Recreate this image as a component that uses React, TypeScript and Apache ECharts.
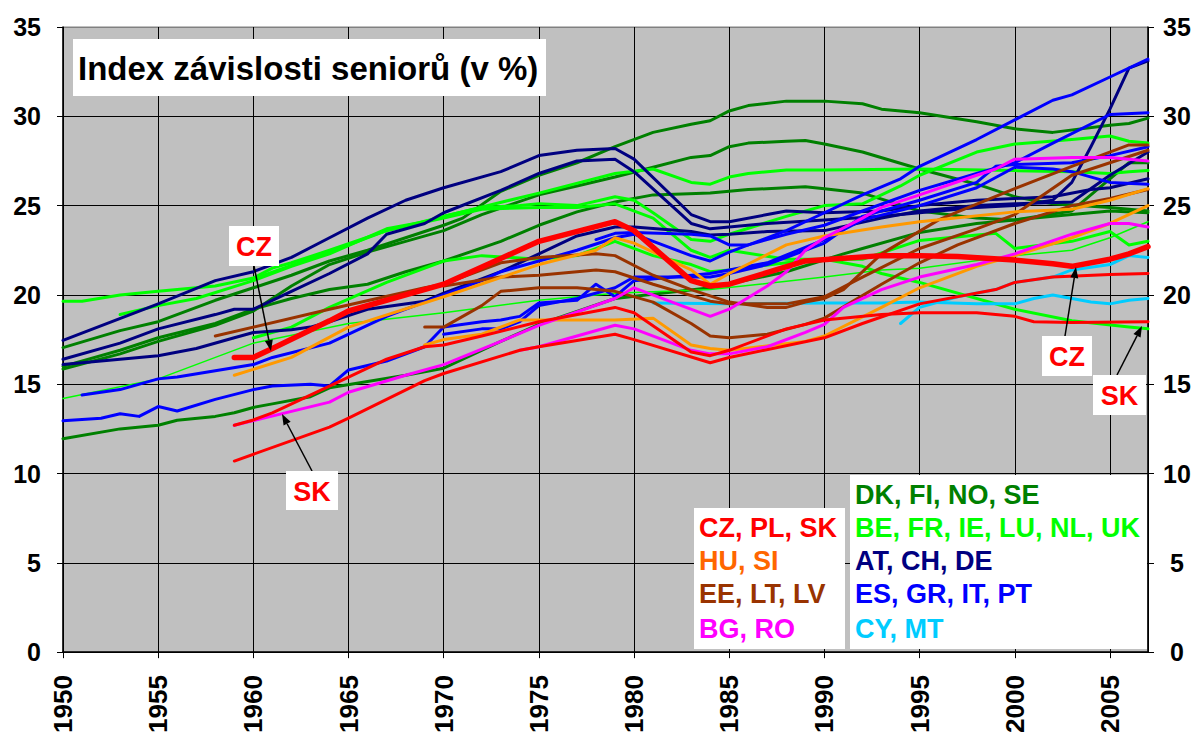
import React, { useEffect, useRef } from "react";
import * as echarts from "echarts";

type P = [number, number][];

// ---- axis settings ----
const X_MIN = 1950;
const X_MAX = 2007;
const Y_MIN = 0;
const Y_MAX = 35;

// ---- red: CZ, PL, SK ----
const CZ: P = [[1959,16.5],[1960,16.5],[1961,17.0],[1964,18.55],[1965,19.1],[1970,20.6],[1975,23.0],[1979,24.1],[1980,23.6],[1983,20.8],[1984,20.5],[1985,20.6],[1989,21.9],[1993,22.2],[1995,22.2],[1997,22.15],[2000,21.95],[2002,21.75],[2003,21.6],[2005,22.0],[2006,22.3],[2007,22.7]];
const SK: P = [[1959,12.7],[1960,13.0],[1961,13.4],[1964,14.9],[1965,15.4],[1967,16.4],[1969,17.1],[1970,17.2],[1972,17.7],[1975,18.5],[1979,19.3],[1980,19.0],[1983,16.8],[1984,16.6],[1985,16.9],[1988,18.1],[1990,18.6],[1993,18.9],[1995,19.0],[1998,19.0],[2000,18.8],[2001,18.5],[2003,18.45],[2007,18.5]];
const PL: P = [[1959,10.7],[1964,12.6],[1965,13.1],[1969,15.2],[1970,15.6],[1974,16.9],[1975,17.1],[1979,17.8],[1980,17.5],[1984,16.2],[1985,16.5],[1990,17.6],[1992,18.4],[1995,19.5],[1999,20.3],[2000,20.7],[2002,21.0],[2005,21.15],[2007,21.2]];

// ---- orange: HU, SI ----
const OR1: P = [[1959,15.5],[1962,16.5],[1965,18.2],[1970,19.9],[1975,21.7],[1978,22.5],[1979,23.2],[1980,22.9],[1983,21.4],[1984,20.6],[1985,21.2],[1988,22.8],[1990,23.3],[1993,23.8],[1995,24.1],[2000,24.65],[2003,24.8],[2005,25.3],[2007,25.95]];
const OR2: P = [[1969,17.2],[1970,17.5],[1972,17.8],[1974,18.6],[1979,18.6],[1981,18.7],[1983,17.2],[1984,17.0],[1985,16.9],[1989,17.4],[1990,17.7],[1993,19.3],[1995,20.4],[1998,21.6],[2000,22.2],[2003,23.2],[2005,24.0],[2007,25.0]];

// ---- brown: EE, LT, LV ----
const BR1: P = [[1958,17.7],[1964,19.2],[1969,20.4],[1970,20.6],[1973,21.8],[1975,22.1],[1978,22.3],[1979,22.2],[1981,21.1],[1983,20.3],[1985,19.6],[1987,19.3],[1988,19.3],[1989,19.6],[1990,19.8],[1991,20.3],[1993,22.3],[1996,24.2],[1997,24.65],[2000,25.95],[2003,27.2],[2006,28.4],[2007,28.4]];
const BR2: P = [[1970,20.5],[1973,21.0],[1975,21.1],[1978,21.4],[1979,21.3],[1981,20.6],[1984,19.65],[1985,19.5],[1988,19.5],[1990,19.9],[1992,21.0],[1995,22.6],[1998,23.7],[2000,24.5],[2003,26.7],[2007,28.1]];
const BR3: P = [[1969,18.2],[1970,18.2],[1972,19.4],[1973,20.2],[1975,20.4],[1977,20.4],[1979,20.2],[1981,19.6],[1983,18.4],[1984,17.7],[1985,17.6],[1987,17.8],[1989,18.35],[1990,18.7],[1993,20.6],[1995,21.8],[1997,22.8],[2000,24.0],[2003,25.0],[2005,25.4],[2007,25.9]];

// ---- magenta: BG, RO ----
const MG1: P = [[1959,12.7],[1964,14.0],[1965,14.55],[1968,15.5],[1970,16.1],[1973,17.4],[1975,18.3],[1979,19.8],[1980,20.4],[1982,19.6],[1984,18.8],[1985,19.2],[1987,20.5],[1988,21.3],[1989,22.5],[1990,23.2],[1992,24.3],[1993,24.9],[1995,25.6],[1998,26.7],[1999,27.05],[2000,27.6],[2003,27.7],[2005,27.7],[2007,27.5]];
const MG2: P = [[1974,16.9],[1975,17.1],[1979,18.3],[1980,18.1],[1983,16.9],[1984,16.7],[1985,16.7],[1987,17.1],[1989,17.9],[1990,18.35],[1991,19.3],[1993,20.3],[1995,21.0],[1998,21.7],[2000,22.3],[2003,23.4],[2005,24.0],[2006,24.0],[2007,23.8]];

// ---- green: DK, FI, NO, SE ----
const GR1: P = [[1950,17.05],[1953,18.0],[1955,18.5],[1958,19.7],[1960,20.4],[1962,21.1],[1964,21.9],[1966,22.5],[1968,23.2],[1970,23.9],[1971,24.3],[1973,25.8],[1975,26.7],[1977,27.4],[1979,28.3],[1981,29.1],[1983,29.56],[1984,29.75],[1985,30.3],[1986,30.6],[1988,30.85],[1990,30.85],[1992,30.7],[1993,30.4],[1995,30.2],[1998,29.7],[2000,29.3],[2002,29.1],[2005,29.5],[2006,29.6],[2007,29.9]];
const GR2: P = [[1950,15.85],[1953,16.7],[1955,17.4],[1958,18.3],[1960,19.1],[1962,20.5],[1964,21.7],[1966,22.4],[1968,23.0],[1970,23.6],[1972,24.5],[1975,25.6],[1977,26.1],[1979,26.6],[1981,27.15],[1983,27.7],[1984,27.8],[1985,28.3],[1986,28.5],[1988,28.6],[1989,28.65],[1990,28.45],[1992,28.0],[1995,27.05],[1998,26.2],[2000,25.5],[2002,25.1],[2005,24.9],[2007,24.7]];
const GR3: P = [[1950,16.0],[1953,16.9],[1955,17.6],[1958,18.4],[1960,19.2],[1962,19.8],[1964,20.3],[1966,20.6],[1968,21.3],[1970,21.9],[1973,23.0],[1975,23.9],[1977,24.65],[1979,25.2],[1981,25.6],[1984,25.7],[1986,25.9],[1989,26.05],[1990,25.95],[1992,25.7],[1995,24.7],[1998,24.3],[2000,24.2],[2003,24.7],[2005,26.5],[2006,27.4],[2007,27.4]];
const GR4: P = [[1950,11.95],[1953,12.5],[1955,12.7],[1956,12.98],[1958,13.2],[1959,13.4],[1960,13.7],[1961,13.9],[1963,14.3],[1964,14.8],[1968,15.5],[1970,15.9],[1973,17.4],[1975,18.35],[1979,19.8],[1984,20.4],[1988,21.3],[1991,22.3],[1992,22.6],[1995,23.5],[1998,24.0],[2000,24.2],[2003,24.5],[2005,24.7],[2007,24.6]];

// ---- lime: BE, FR, IE, LU, NL, UK ----
const LM1: P = [[1950,19.65],[1951,19.65],[1953,20.0],[1955,20.2],[1958,20.5],[1960,20.95],[1961,21.5],[1962,21.8],[1964,22.5],[1967,23.6],[1970,24.4],[1975,25.7],[1979,26.8],[1981,27.05],[1983,26.3],[1984,26.2],[1985,26.6],[1986,26.8],[1988,27.0],[1990,27.0],[1995,27.05],[2000,26.96],[2003,26.9],[2005,26.8],[2006,26.9],[2007,26.96]];
const LM2: P = [[1953,18.9],[1955,19.4],[1957,19.8],[1960,20.8],[1962,21.6],[1964,22.3],[1967,23.7],[1969,24.1],[1970,24.4],[1972,24.9],[1974,25.0],[1975,25.1],[1977,25.0],[1979,25.5],[1980,25.3],[1981,24.6],[1983,23.1],[1984,23.0],[1985,23.4],[1988,24.4],[1990,25.0],[1992,25.1],[1994,26.1],[1995,26.7],[1998,28.0],[2000,28.45],[2003,28.7],[2005,28.9],[2006,28.6],[2007,28.5]];
const LM3: P = [[1960,20.9],[1964,22.4],[1967,23.6],[1970,24.3],[1972,24.8],[1975,24.9],[1977,24.9],[1979,25.1],[1981,24.3],[1983,22.5],[1984,22.1],[1985,22.5],[1988,22.0],[1990,22.0],[1992,22.0],[1995,23.05],[1999,23.45],[2000,22.6],[2003,23.0],[2005,23.55],[2006,22.8],[2007,23.0]];
const LM4: P = [[1960,17.6],[1962,18.2],[1964,19.3],[1967,20.7],[1970,21.9],[1972,22.2],[1975,22.0],[1977,22.2],[1979,23.0],[1981,22.2],[1983,21.7],[1984,21.3],[1985,21.4],[1988,21.8],[1990,22.0],[1992,21.6],[1993,21.2],[1995,20.7],[2000,19.2],[2003,18.55],[2006,18.2],[2007,18.1]];
const LM5: P = [[1950,14.2],[1955,15.3],[1960,17.3],[1965,18.4],[1970,19.0],[1975,19.7],[1979,20.1],[1984,20.3],[1990,21.0],[1993,21.4],[1995,21.5],[2000,22.2],[2003,22.5],[2005,23.2],[2007,24.1]];

// ---- navy: AT, CH, DE ----
const NV1: P = [[1950,17.45],[1955,19.5],[1958,20.8],[1960,21.3],[1962,22.1],[1964,23.2],[1966,24.3],[1968,25.3],[1970,26.0],[1973,26.9],[1975,27.8],[1977,28.1],[1979,28.2],[1980,27.6],[1983,24.5],[1984,24.1],[1985,24.1],[1987,24.5],[1988,24.7],[1990,24.6],[1993,24.7],[1995,25.0],[1998,25.3],[2000,25.4],[2002,25.5],[2004,25.9],[2005,26.0],[2007,26.5]];
const NV2: P = [[1950,16.4],[1953,17.3],[1955,18.1],[1958,18.9],[1959,19.2],[1960,19.2],[1961,19.7],[1962,20.2],[1964,21.2],[1966,22.3],[1967,23.4],[1969,24.0],[1970,24.6],[1973,25.85],[1975,26.8],[1977,27.5],[1979,27.6],[1980,26.9],[1983,24.0],[1984,23.7],[1985,23.8],[1987,24.0],[1990,24.2],[1993,24.4],[1995,24.6],[1998,24.9],[2000,25.0],[2002,25.3],[2003,26.3],[2004,28.3],[2005,30.4],[2006,32.7],[2007,33.1]];
const NV3: P = [[1950,16.1],[1955,16.6],[1957,17.0],[1959,17.6],[1960,17.9],[1962,18.05],[1963,18.2],[1964,18.5],[1966,19.2],[1969,19.65],[1970,20.1],[1973,21.3],[1975,22.3],[1977,23.3],[1979,23.8],[1980,23.8],[1983,23.55],[1984,23.35],[1985,23.4],[1987,23.55],[1990,23.6],[1993,24.3],[1995,24.7],[1998,25.0],[2000,25.1],[2003,25.2],[2005,26.7],[2007,28.0]];

// ---- blue: ES, GR, IT, PT ----
const BL1: P = [[1951,14.4],[1953,14.7],[1955,15.3],[1956,15.4],[1960,16.1],[1961,16.5],[1964,17.3],[1967,18.8],[1970,20.0],[1972,20.8],[1973,21.3],[1975,21.9],[1977,22.5],[1979,23.2],[1980,23.4],[1983,22.2],[1984,21.9],[1985,22.4],[1988,23.6],[1990,24.6],[1992,25.6],[1994,26.5],[1995,27.2],[1998,28.7],[2000,29.8],[2002,30.9],[2003,31.2],[2005,32.2],[2007,33.2]];
const BL2: P = [[1950,12.95],[1952,13.1],[1953,13.35],[1954,13.2],[1955,13.75],[1956,13.5],[1958,14.15],[1960,14.7],[1961,14.9],[1963,15.0],[1964,14.9],[1965,15.8],[1967,16.3],[1969,17.1],[1970,18.2],[1972,18.5],[1973,18.6],[1974,18.8],[1975,19.55],[1977,19.7],[1978,20.6],[1979,19.9],[1980,20.8],[1984,21.2],[1985,21.4],[1987,21.8],[1990,23.1],[1992,24.2],[1995,25.0],[1998,26.0],[2000,27.15],[2002,27.05],[2003,26.9],[2005,26.3],[2007,26.2]];
const BL3: P = [[1978,23.1],[1979,23.45],[1980,23.5],[1983,23.4],[1984,23.3],[1985,22.8],[1986,22.8],[1988,23.4],[1990,23.9],[1992,24.7],[1995,25.85],[1998,26.8],[2000,27.4],[2002,28.5],[2005,30.1],[2007,30.2]];
const BL4: P = [[1970,17.8],[1972,18.1],[1973,18.1],[1974,18.5],[1975,19.4],[1977,19.8],[1979,20.4],[1980,21.0],[1984,21.0],[1985,21.2],[1987,21.7],[1990,22.9],[1992,24.4],[1995,25.3],[1998,26.3],[1999,27.2],[2000,27.3],[2003,27.4],[2005,27.8],[2007,28.3]];

// ---- cyan: CY, MT ----
const CY1: P = [[1981,19.55],[1985,19.5],[1990,19.55],[1993,19.55],[1995,19.6],[1998,19.5],[2000,19.5],[2001,19.8],[2002,20.0],[2004,19.6],[2005,19.5],[2006,19.7],[2007,19.8]];
const CY2: P = [[1994,18.4],[1995,19.3],[1997,19.9],[1999,20.3],[2000,20.7],[2002,21.0],[2003,21.4],[2005,21.7],[2006,22.2],[2007,22.1]];

// ---- colours ----
const C_RED = "#FF0000";
const C_ORANGE = "#FF9900";
const C_ORANGE_TXT = "#FF6600";
const C_BROWN = "#993300";
const C_MAGENTA = "#FF00FF";
const C_GREEN = "#008000";
const C_LIME = "#00FF00";
const C_NAVY = "#000080";
const C_BLUE = "#0000FF";
const C_CYAN = "#00CCFF";

const SERIES: { name: string; data: P; color: string; width: number }[] = [
  { name: "DK/FI/NO/SE 1", data: GR1, color: C_GREEN, width: 3 },
  { name: "DK/FI/NO/SE 2", data: GR2, color: C_GREEN, width: 3 },
  { name: "DK/FI/NO/SE 3", data: GR3, color: C_GREEN, width: 3 },
  { name: "DK/FI/NO/SE 4", data: GR4, color: C_GREEN, width: 3 },
  { name: "BE/FR/IE/LU/NL/UK 1", data: LM1, color: C_LIME, width: 3 },
  { name: "BE/FR/IE/LU/NL/UK 2", data: LM2, color: C_LIME, width: 3 },
  { name: "BE/FR/IE/LU/NL/UK 3", data: LM3, color: C_LIME, width: 3 },
  { name: "BE/FR/IE/LU/NL/UK 4", data: LM4, color: C_LIME, width: 3 },
  { name: "BE/FR/IE/LU/NL/UK 5", data: LM5, color: C_LIME, width: 1.5 },
  { name: "AT/CH/DE 1", data: NV1, color: C_NAVY, width: 3 },
  { name: "AT/CH/DE 2", data: NV2, color: C_NAVY, width: 3 },
  { name: "AT/CH/DE 3", data: NV3, color: C_NAVY, width: 3 },
  { name: "ES/GR/IT/PT 1", data: BL1, color: C_BLUE, width: 3 },
  { name: "ES/GR/IT/PT 2", data: BL2, color: C_BLUE, width: 3 },
  { name: "ES/GR/IT/PT 3", data: BL3, color: C_BLUE, width: 3 },
  { name: "ES/GR/IT/PT 4", data: BL4, color: C_BLUE, width: 3 },
  { name: "CY/MT 1", data: CY1, color: C_CYAN, width: 3 },
  { name: "CY/MT 2", data: CY2, color: C_CYAN, width: 3 },
  { name: "EE/LT/LV 1", data: BR1, color: C_BROWN, width: 3 },
  { name: "EE/LT/LV 2", data: BR2, color: C_BROWN, width: 3 },
  { name: "EE/LT/LV 3", data: BR3, color: C_BROWN, width: 3 },
  { name: "HU/SI 1", data: OR1, color: C_ORANGE, width: 3 },
  { name: "HU/SI 2", data: OR2, color: C_ORANGE, width: 3 },
  { name: "BG/RO 1", data: MG1, color: C_MAGENTA, width: 3 },
  { name: "BG/RO 2", data: MG2, color: C_MAGENTA, width: 3 },
  { name: "PL", data: PL, color: C_RED, width: 3 },
  { name: "SK", data: SK, color: C_RED, width: 3 },
  { name: "CZ", data: CZ, color: C_RED, width: 5.5 },
];

const TITLE = "Index závislosti seniorů (v %)";
const LEGEND_LEFT: [string, string][] = [
  ["CZ, PL, SK", C_RED],
  ["HU, SI", C_ORANGE_TXT],
  ["EE, LT, LV", C_BROWN],
  ["BG, RO", C_MAGENTA],
];
const LEGEND_RIGHT: [string, string][] = [
  ["DK, FI, NO, SE", C_GREEN],
  ["BE, FR, IE, LU, NL, UK", C_LIME],
  ["AT, CH, DE", C_NAVY],
  ["ES, GR, IT, PT", C_BLUE],
  ["CY, MT", C_CYAN],
];

const FONT = '"Liberation Sans", Arial, Helvetica, sans-serif';

function arrow(x1: number, y1: number, x2: number, y2: number): any[] {
  const ang = Math.atan2(y2 - y1, x2 - x1);
  const L = 11;
  const W = 4;
  const bx = x2 - L * Math.cos(ang);
  const by = y2 - L * Math.sin(ang);
  const px = -Math.sin(ang) * W;
  const py = Math.cos(ang) * W;
  return [
    { type: "line", z: 100, shape: { x1, y1, x2: bx, y2: by }, style: { stroke: "#000", lineWidth: 1.5 } },
    { type: "polygon", z: 100, shape: { points: [[x2, y2], [bx + px, by + py], [bx - px, by - py]] }, style: { fill: "#000" } },
  ];
}

function tag(x: number, y: number, w: number, h: number, text: string): any[] {
  return [
    { type: "rect", z: 100, shape: { x, y, width: w, height: h }, style: { fill: "#fff" } },
    {
      type: "text", z: 101, x: x + w / 2, y: y + h / 2 + 1,
      style: { text, fill: C_RED, font: `bold 27px ${FONT}`, align: "center", verticalAlign: "middle" },
    },
  ];
}

export default function App() {
  const ref = useRef<HTMLDivElement>(null);
  useEffect(() => {
    document.body.style.margin = "0";
    if (!ref.current) return;
    const chart = echarts.init(ref.current, undefined, { renderer: "svg" });

    const graphics: any[] = [];
    // title
    graphics.push({ type: "rect", z: 100, shape: { x: 73, y: 39, width: 473, height: 57 }, style: { fill: "#fff" } });
    graphics.push({
      type: "text", z: 101, x: 78, y: 68,
      style: { text: TITLE, fill: "#000", font: `bold 33px ${FONT}`, align: "left", verticalAlign: "middle" },
    });
    // legend boxes
    graphics.push({ type: "rect", z: 100, shape: { x: 694, y: 508, width: 151, height: 141 }, style: { fill: "#fff" } });
    graphics.push({ type: "rect", z: 100, shape: { x: 850, y: 475, width: 297, height: 174 }, style: { fill: "#fff" } });
    const rowsR = [495, 527.5, 561, 593.5, 628.5];
    const rowsL = [527.5, 561, 593.5, 628.5];
    LEGEND_LEFT.forEach(([t, c], i) => {
      graphics.push({ type: "text", z: 101, x: 699, y: rowsL[i], style: { text: t, fill: c, font: `bold 27px ${FONT}`, align: "left", verticalAlign: "middle" } });
    });
    LEGEND_RIGHT.forEach(([t, c], i) => {
      graphics.push({ type: "text", z: 101, x: 855, y: rowsR[i], style: { text: t, fill: c, font: `bold 27px ${FONT}`, align: "left", verticalAlign: "middle" } });
    });
    // annotations
    graphics.push(...arrow(254, 266, 271, 351));
    graphics.push(...tag(229, 226, 50, 40, "CZ"));
    graphics.push(...arrow(312, 471, 282, 414));
    graphics.push(...tag(286, 471, 52, 39, "SK"));
    graphics.push(...arrow(1065, 336, 1076, 267));
    graphics.push(...tag(1042, 336, 50, 40, "CZ"));
    graphics.push(...arrow(1117, 375, 1142, 326));
    graphics.push(...tag(1093, 375, 53, 40, "SK"));

    const axisLabelBase = { color: "#000", fontSize: 25, fontWeight: "bold" as const, fontFamily: FONT };

    chart.setOption({
      animation: false,
      grid: { left: 63, right: 54, top: 27, bottom: 79, show: true, backgroundColor: "#C0C0C0", borderColor: "#808080", borderWidth: 1 },
      xAxis: {
        type: "value", min: X_MIN, max: X_MAX, interval: 5,
        axisLine: { show: true, onZero: false, lineStyle: { color: "#000", width: 1.5 } },
        axisTick: { show: true, length: 6, lineStyle: { color: "#000", width: 1 } },
        axisLabel: { ...axisLabelBase, fontSize: 26, rotate: 90, margin: 23, showMaxLabel: false, formatter: (v: number) => String(v) },
        splitLine: { show: true, lineStyle: { color: "#000", width: 1 } },
      },
      yAxis: [
        {
          type: "value", min: Y_MIN, max: Y_MAX, interval: 5, position: "left",
          axisLine: { show: true, lineStyle: { color: "#000", width: 1.5 } },
          axisTick: { show: true, length: 6, lineStyle: { color: "#000" } },
          axisLabel: { ...axisLabelBase, margin: 22 },
          splitLine: { show: true, lineStyle: { color: ["#000", "#000", "#000", "#000", "#000", "#000", "#000", "#808080"], width: 1 } },
        },
        {
          type: "value", min: Y_MIN, max: Y_MAX, interval: 5, position: "right",
          axisLine: { show: true, lineStyle: { color: "#000", width: 1.5 } },
          axisTick: { show: true, length: 6, lineStyle: { color: "#000" } },
          axisLabel: { ...axisLabelBase, margin: 29, align: "center" },
          splitLine: { show: false },
        },
      ],
      series: SERIES.map((s) => ({
        type: "line",
        name: s.name,
        data: s.data,
        yAxisIndex: 0,
        symbol: "none",
        showSymbol: false,
        silent: true,
        lineStyle: { color: s.color, width: s.width, join: "round", cap: "round" },
        itemStyle: { color: s.color },
      })),
      graphic: graphics,
    });
    return () => chart.dispose();
  }, []);
  return <div ref={ref} style={{ width: 1202, height: 736 }} />;
}
